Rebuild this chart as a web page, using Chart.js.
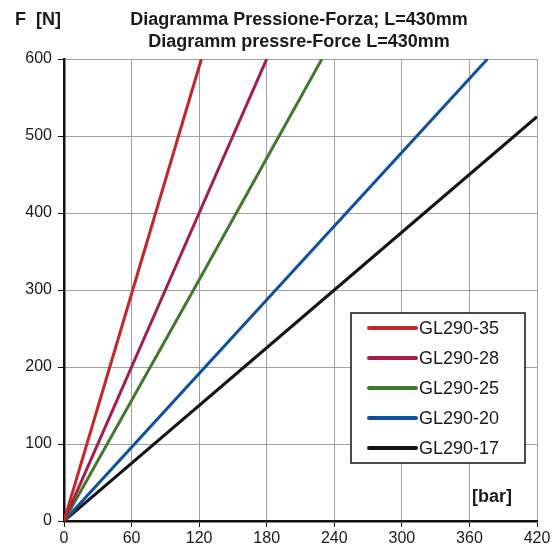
<!DOCTYPE html>
<html lang="it">
<head>
    <meta charset="UTF-8">
    <title>Diagramma Pressione-Forza</title>
    <script src="https://cdn.jsdelivr.net/npm/chart.js"></script>
    <style>
        html, body { margin: 0; padding: 0; background: #fff; }
        .chart-box { width: 555px; height: 551px; position: relative; }
    </style>
</head>
<body>
    <div class="chart-box">
        <canvas id="forceChart"></canvas>
    </div>
    <script>
        // values (pressure in bar, force in N)
        const seriesNames = ['GL290-35', 'GL290-28', 'GL290-25', 'GL290-20', 'GL290-17'];
        const pressure35 = [0, 61, 122];
        const force35 = [0, 300, 600];
        const pressure28 = [0, 90, 180];
        const force28 = [0, 300, 600];
        const pressure25 = [0, 115, 229];
        const force25 = [0, 300, 600];
        const pressure20 = [0, 188, 376];
        const force20 = [0, 300, 600];
        const pressure17 = [0, 240, 420];
        const force17 = [0, 300, 525];
        const xTicks = [0, 60, 120, 180, 240, 300, 360, 420];
        const yTicks = [0, 100, 200, 300, 400, 500, 600];
        const lineColors = ['#c4262b', '#a31d4e', '#3d7a2c', '#0f4fa3', '#141414'];

        const toPoints = (xs, ys) => xs.map((x, i) => ({ x: x, y: ys[i] }));
        const allSeries = [
            toPoints(pressure35, force35),
            toPoints(pressure28, force28),
            toPoints(pressure25, force25),
            toPoints(pressure20, force20),
            toPoints(pressure17, force17)
        ];

        const FONT = '"Liberation Sans", Arial, sans-serif';

        // titles, axis captions and the boxed legend inside the plot
        const decorations = {
            id: 'decorations',
            afterDraw(chart) {
                const ctx = chart.ctx;
                ctx.save();
                ctx.fillStyle = '#1a1a1a';
                ctx.textBaseline = 'middle';
                ctx.font = 'bold 18px ' + FONT;
                ctx.textAlign = 'center';
                const cx = 299;
                ctx.fillText('Diagramma Pressione-Forza; L=430mm', cx, 20);
                ctx.fillText('Diagramm pressre-Force L=430mm', cx, 42);
                ctx.textAlign = 'left';
                ctx.fillText('F  [N]', 15, 20);
                ctx.textAlign = 'right';
                ctx.fillText('[bar]', 512, 497);

                // legend box
                const bx = 351, by = 313, bw = 174, bh = 150;
                ctx.fillStyle = '#fff';
                ctx.fillRect(bx, by, bw, bh);
                ctx.strokeStyle = '#111';
                ctx.lineWidth = 1.5;
                ctx.strokeRect(bx, by, bw, bh);
                ctx.font = '18px ' + FONT;
                ctx.textAlign = 'left';
                chart.data.datasets.forEach((ds, i) => {
                    const y = by + 15 + i * 30;
                    ctx.strokeStyle = ds.borderColor;
                    ctx.lineWidth = 4;
                    ctx.lineCap = 'round';
                    ctx.beginPath();
                    ctx.moveTo(369, y);
                    ctx.lineTo(416, y);
                    ctx.stroke();
                    ctx.fillStyle = '#1a1a1a';
                    ctx.fillText(ds.label, 419, y + 1);
                });
                ctx.restore();
            }
        };

        new Chart(document.getElementById('forceChart'), {
            type: 'line',
            data: {
                datasets: allSeries.map((pts, i) => ({
                    label: seriesNames[i],
                    data: pts,
                    borderColor: lineColors[i],
                    borderWidth: 3,
                    pointRadius: 0,
                    tension: 0
                }))
            },
            options: {
                responsive: true,
                maintainAspectRatio: false,
                animation: false,
                layout: { padding: { top: 59, right: 18, left: 0, bottom: 0 } },
                plugins: {
                    legend: { display: false },
                    tooltip: { enabled: false }
                },
                scales: {
                    x: {
                        type: 'linear',
                        min: 0,
                        max: 420,
                        afterBuildTicks: s => { s.ticks = xTicks.map(v => ({ value: v })); },
                        afterFit: s => { s.height = 30; },
                        grid: { color: '#a0a0a0', lineWidth: 1, tickColor: '#111', tickLength: 6 },
                        border: { color: '#111', width: 2.5 },
                        ticks: { color: '#1a1a1a', padding: 2, font: { family: FONT, size: 16 } }
                    },
                    y: {
                        min: 0,
                        max: 600,
                        afterBuildTicks: s => { s.ticks = yTicks.map(v => ({ value: v })); },
                        afterFit: s => { s.width = 64; },
                        grid: { color: '#a0a0a0', lineWidth: 1, tickColor: '#111', tickLength: 6 },
                        border: { color: '#111', width: 2.5 },
                        ticks: { color: '#1a1a1a', padding: 6, font: { family: FONT, size: 16 } }
                    }
                }
            },
            plugins: [decorations]
        });
    </script>
</body>
</html>
